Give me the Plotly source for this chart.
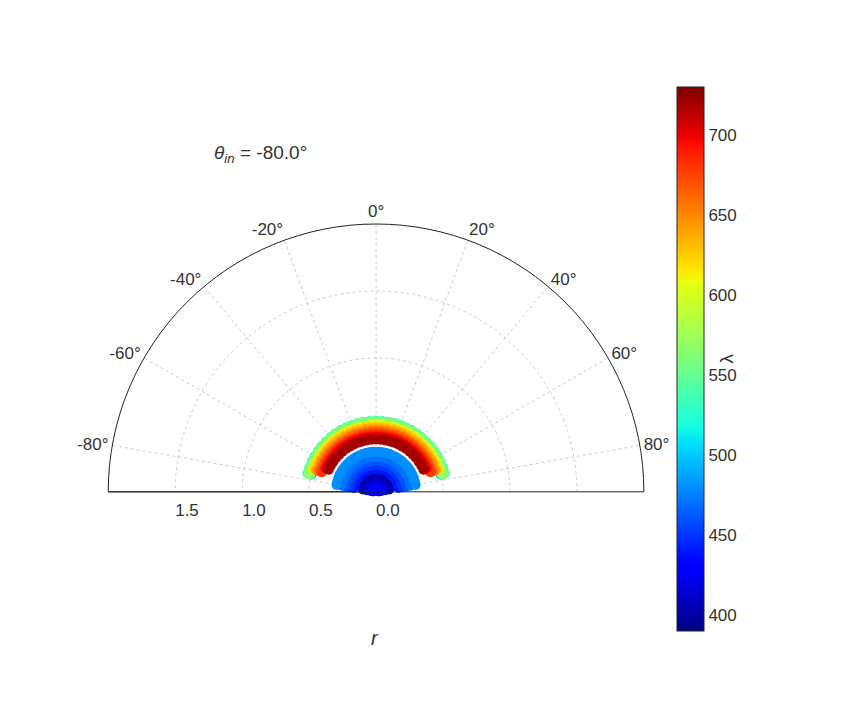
import plotly.graph_objects as go

angles = [-80,-75,-70,-65,-60,-55,-50,-45,-40,-35,-30,-25,-20,-15,-10,-5,0,5,10,15,20,25,30,35,40,45,50,55,60,65,70,75,80]
wavelengths = [400,410,420,430,440,450,460,470,480,490,500,510,520,530,540,550,560,570,580,590,600,610,620,630,640,650,660,670,680,690,700,710,720]
radii = [0.10,0.07,0.04,0.02,0.17,0.20,0.23,0.26,0.30,0.50,0.50,0.51,0.52,0.53,0.53,0.53,0.52,0.51,0.50,0.50,0.50,0.49,0.49,0.48,0.47,0.46,0.45,0.44,0.43,0.42,0.41,0.40,0.39]
ang_max = [80,80,80,80,80,80,80,80,80,75,75,75,75,75,75,75,75,75,72,72,72,72,70,70,70,70,70,70,70,68,68,68,68]
angle_ticks = [-80,-60,-40,-20,0,20,40,60,80]
angle_labels = ["-80°","-60°","-40°","-20°","0°","20°","40°","60°","80°"]

jet = [[0.0,"#000080"],[0.11,"#0000ff"],[0.125,"#0000ff"],[0.34,"#00dbff"],[0.35,"#00e5f8"],
       [0.375,"#14ffe2"],[0.5,"#7dff7a"],[0.64,"#e7ff0f"],[0.66,"#ffea00"],[0.89,"#ff1300"],
       [0.91,"#ed0000"],[1.0,"#800000"]]

rs, ts, cs = [], [], []
for w, r, am in zip(wavelengths, radii, ang_max):
    for a in angles:
        if abs(a) <= am:
            rs.append(r); ts.append(a); cs.append(w)

fig = go.Figure(go.Scatterpolar(
    r=rs, theta=ts, mode="markers",
    marker=dict(size=10, color=cs, colorscale=jet, cmin=390, cmax=730,
                colorbar=dict(x=0.763, xanchor="left", y=0.513, yanchor="middle", len=544, lenmode="pixels",
                              ypad=0, thickness=27,
                              outlinewidth=1, outlinecolor="#222", tickvals=[400,450,500,550,600,650,700],
                              ticks="", tickfont=dict(size=17, color="#333"),
                              title=dict(text="λ", side="right", font=dict(size=19, color="#333")))),
    showlegend=False))

fig.update_layout(
    width=864, height=720, paper_bgcolor="white", margin=dict(l=0, r=0, t=0, b=0),
    font=dict(family="Liberation Sans", color="#333"),
    polar=dict(
        domain=dict(x=[0.116, 0.736], y=[0.328, 0.70]),
        sector=[0, 180], bgcolor="white",
        angularaxis=dict(rotation=90, direction="clockwise", tickvals=angle_ticks, ticktext=angle_labels,
                         ticks="", showline=True, linecolor="#222", linewidth=1,
                         gridcolor="#ccc", griddash="dot", tickfont=dict(size=17)),
        radialaxis=dict(range=[0, 2], tickvals=[0, 0.5, 1.0, 1.5], ticktext=["0.0","0.5","1.0","1.5"],
                        angle=180, tickangle=180, side="counterclockwise", showline=True,
                        linecolor="#222", ticks="",
                        gridcolor="#ccc", griddash="dot", tickfont=dict(size=17))),
    annotations=[
        dict(text="<i>θ<sub>in</sub></i> = -80.0°", x=0.298, y=0.787, xref="paper", yref="paper",
             showarrow=False, font=dict(size=19)) | dict(x=0.30, y=0.786),
        dict(text="<i>r</i>", x=0.425, y=0.107, xref="paper", yref="paper", showarrow=False,
             font=dict(size=20)),
    ])
fig.layout.annotations[0].update(x=0.298 - 0.0625 + 0.0625 * 0, y=0.817)
fig.layout.annotations[0].update(x=0.236)
fig.write_html("out.html")
